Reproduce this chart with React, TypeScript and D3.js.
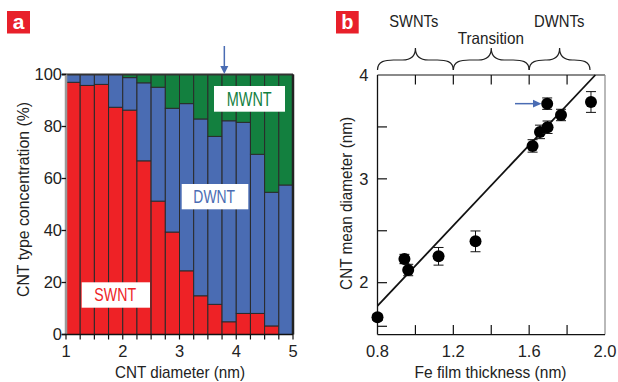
import React from "react";
import * as d3 from "d3";

// ---------- Panel a data ----------
const binStarts = [1, 1.25, 1.5, 1.75, 2, 2.25, 2.5, 2.75, 3, 3.25, 3.5, 3.75, 4, 4.25, 4.5, 4.75];
const binWidth = 0.25;
const swnt = [97, 95.8, 96.2, 87.4, 86.3, 66.8, 51.3, 39.4, 24.5, 14.9, 11.6, 4.9, 8.1, 8.1, 3.3, 0];
const dwnt = [3, 4.2, 3.8, 12.6, 12.5, 30, 43.8, 47.6, 64.3, 68, 64.6, 77.3, 73.5, 61.2, 51.4, 57.5];
const mwnt = [0, 0, 0, 0, 1.2, 3.2, 4.9, 13, 11.2, 17.1, 23.8, 17.8, 18.4, 30.7, 45.3, 42.5];
const aXTicks = [1, 2, 3, 4, 5];
const aXMinor = [1, 1.25, 1.5, 1.75, 2, 2.25, 2.5, 2.75, 3, 3.25, 3.5, 3.75, 4, 4.25, 4.5, 4.75, 5];
const aYTicks = [0, 20, 40, 60, 80, 100];
const arrowADiameter = 3.79;

// ---------- Panel b data ----------
const feThickness = [0.8, 0.942, 0.962, 1.122, 1.317, 1.618, 1.657, 1.697, 1.695, 1.768, 1.926];
const meanDiameter = [1.667, 2.228, 2.122, 2.254, 2.398, 3.317, 3.452, 3.497, 3.724, 3.615, 3.74];
const diameterErr = [0.03, 0.045, 0.055, 0.085, 0.1, 0.06, 0.065, 0.06, 0.055, 0.055, 0.1];
const fitX = [0.8, 1.949];
const fitY = [1.776, 4.0];
const bXTickLabels = [0.8, 1.2, 1.6, 2.0];
const bXTicks = [1.0, 1.2, 1.4, 1.6, 1.8];
const bYTickLabels = [2, 3, 4];
const bYTicks = [1.58, 2, 2.5, 3, 3.5];
const regimes = ["SWNTs", "Transition", "DWNTs"];
const regimeStart = [0.8, 1.2, 1.6];
const regimeEnd = [1.2, 1.6, 1.921];
const arrowBIndex = 8;

const RED = "#ee2226";
const BLUE = "#4a6cb3";
const GREEN = "#13803f";
const FONT = "'Liberation Sans', Arial, sans-serif";

export default function App() {
  const xA = d3.scaleLinear().domain([1, 5]).range([66, 293]);
  const yA = d3.scaleLinear().domain([0, 100]).range([334.5, 74.5]);
  const xB = d3.scaleLinear().domain([0.8, 2.0]).range([377.5, 605]);
  const yB = d3.scaleLinear().domain([1.5, 4]).range([334.6, 75]);

  const fitLine = d3
    .line<number>()
    .x((d) => xB(d))
    .y((_, i) => yB(fitY[i]));

  const brace = (xa: number, xb: number) => {
    const xm = (xa + xb) / 2;
    const y0 = 70, ym = 60, yt = 48;
    return `M${xa},${y0} C${xa},${ym + 1} ${xa + 8},${ym} ${xa + 16},${ym} L${xm - 13},${ym} C${xm - 5},${ym} ${xm},${ym - 3} ${xm},${yt} C${xm},${ym - 3} ${xm + 5},${ym} ${xm + 13},${ym} L${xb - 16},${ym} C${xb - 8},${ym} ${xb},${ym + 1} ${xb},${y0}`;
  };

  const segs: { x: number; y0: number; y1: number; c: string }[] = [];
  binStarts.forEach((b, i) => {
    const s = swnt[i], dw = dwnt[i], m = mwnt[i];
    segs.push({ x: b, y0: 0, y1: s, c: RED });
    segs.push({ x: b, y0: s, y1: s + dw, c: BLUE });
    if (m > 0) segs.push({ x: b, y0: s + dw, y1: 100, c: GREEN });
  });

  const arrowAx = xA(arrowADiameter);
  const arrowBy = yB(meanDiameter[arrowBIndex]);

  return (
    <svg width={618} height={382} style={{ position: "absolute", left: 0, top: 0, background: "#fff" }} fontFamily={FONT}>
      {/* ---------------- Panel a ---------------- */}
      <rect x={7} y={11} width={23} height={22.5} fill="#e8202a" />
      <text x={18.5} y={28.5} fill="#fff" fontSize={21} fontWeight="bold" textAnchor="middle">a</text>

      {segs.map((s, i) => (
        <rect
          key={i}
          x={xA(s.x)}
          width={xA(s.x + binWidth) - xA(s.x)}
          y={yA(s.y1)}
          height={yA(s.y0) - yA(s.y1)}
          fill={s.c}
          stroke="#2a2a2a"
          strokeWidth={1}
        />
      ))}

      {/* frame */}
      <line x1={62} x2={293} y1={yA(100)} y2={yA(100)} stroke="#333" strokeWidth={2} />
      <line x1={xA(5)} x2={xA(5)} y1={yA(100)} y2={yA(0)} stroke="#222" strokeWidth={2.5} />
      <line x1={xA(1)} x2={xA(1)} y1={yA(100)} y2={yA(0)} stroke="#9a9a9a" strokeWidth={2.5} />
      <line x1={62} x2={293} y1={yA(0)} y2={yA(0)} stroke="#111" strokeWidth={1.5} />
      {aYTicks.map((t) => (
        <g key={t}>
          <line x1={61.5} x2={66} y1={yA(t)} y2={yA(t)} stroke="#111" strokeWidth={1.3} />
          <text x={62} y={yA(t)} dy="0.35em" textAnchor="end" fontSize={16.5} fill="#222">{t}</text>
        </g>
      ))}
      {aXMinor.map((t) => (
        <line key={t} x1={xA(t)} x2={xA(t)} y1={yA(0)} y2={yA(0) + 5} stroke="#111" strokeWidth={1.2} />
      ))}
      {aXTicks.map((t) => (
        <text key={t} x={xA(t)} y={356.7} textAnchor="middle" fontSize={16.5} fill="#222">{t}</text>
      ))}
      <text x={180} y={378.3} textAnchor="middle" fontSize={17} fill="#222" textLength={130} lengthAdjust="spacingAndGlyphs">CNT diameter (nm)</text>
      <text transform="translate(28.5,199.5) rotate(-90)" textAnchor="middle" fontSize={17} fill="#222" textLength={195} lengthAdjust="spacingAndGlyphs">CNT type concentration (%)</text>

      {/* in-plot labels */}
      <rect x={214} y={86} width={71} height={25.7} fill="#fff" />
      <text x={249.2} y={106} textAnchor="middle" fontSize={19.5} fill={GREEN} textLength={45} lengthAdjust="spacingAndGlyphs">MWNT</text>
      <rect x={181.7} y={184} width={66.6} height={25.3} fill="#fff" />
      <text x={214.2} y={203.4} textAnchor="middle" fontSize={19} fill={BLUE} textLength={41.7} lengthAdjust="spacingAndGlyphs">DWNT</text>
      <rect x={81.7} y={282.3} width={68.3} height={25.4} fill="#fff" />
      <text x={115.2} y={301.2} textAnchor="middle" fontSize={19} fill={RED} textLength={41.7} lengthAdjust="spacingAndGlyphs">SWNT</text>

      {/* arrow a */}
      <line x1={arrowAx} x2={arrowAx} y1={46} y2={68} stroke={BLUE} strokeWidth={1.5} />
      <polygon points={`${arrowAx - 4},${66} ${arrowAx + 4},${66} ${arrowAx},${74}`} fill={BLUE} />

      {/* ---------------- Panel b ---------------- */}
      <rect x={336} y={11} width={22.7} height={22.5} fill="#e8202a" />
      <text x={347.3} y={28.5} fill="#fff" fontSize={20} fontWeight="bold" textAnchor="middle">b</text>

      {regimes.map((r, i) => (
        <path key={r} d={brace(xB(regimeStart[i]), xB(regimeEnd[i]))} fill="none" stroke="#222" strokeWidth={1.2} />
      ))}
      <text x={413.8} y={26.7} textAnchor="middle" fontSize={16.5} fill="#222" textLength={49} lengthAdjust="spacingAndGlyphs">{regimes[0]}</text>
      <text x={490.8} y={44} textAnchor="middle" fontSize={16.5} fill="#222" textLength={66.3} lengthAdjust="spacingAndGlyphs">{regimes[1]}</text>
      <text x={559.2} y={26.7} textAnchor="middle" fontSize={16.5} fill="#222" textLength={50.3} lengthAdjust="spacingAndGlyphs">{regimes[2]}</text>

      {/* frame */}
      <line x1={xB(0.8)} x2={xB(2.0)} y1={yB(4)} y2={yB(4)} stroke="#8a8a8a" strokeWidth={2} />
      <line x1={xB(2.0)} x2={xB(2.0)} y1={yB(4)} y2={yB(1.5)} stroke="#8a8a8a" strokeWidth={1.2} />
      <line x1={xB(0.8)} x2={xB(0.8)} y1={yB(4)} y2={yB(1.5)} stroke="#111" strokeWidth={1.3} />
      <line x1={xB(0.8)} x2={xB(2.0)} y1={yB(1.5)} y2={yB(1.5)} stroke="#111" strokeWidth={1.3} />
      {bXTicks.map((t) => (
        <g key={t}>
          <line x1={xB(t)} x2={xB(t)} y1={yB(1.5)} y2={yB(1.5) - 9.5} stroke="#111" strokeWidth={1.2} />
          <line x1={xB(t)} x2={xB(t)} y1={yB(4)} y2={yB(4) + 9.5} stroke="#111" strokeWidth={1.2} />
        </g>
      ))}
      {bYTicks.map((t) => (
        <line key={t} x1={xB(0.8)} x2={xB(0.8) + 9.5} y1={yB(t)} y2={yB(t)} stroke="#111" strokeWidth={1.2} />
      ))}
      {bXTickLabels.map((t) => (
        <text key={t} x={xB(t)} y={356.7} textAnchor="middle" fontSize={16.5} fill="#222">{t.toFixed(1)}</text>
      ))}
      {bYTickLabels.map((t) => (
        <text key={t} x={368.5} y={yB(t)} dy="0.35em" textAnchor="end" fontSize={16.5} fill="#222">{t}</text>
      ))}
      <text x={490.5} y={378.3} textAnchor="middle" fontSize={17} fill="#222" textLength={152} lengthAdjust="spacingAndGlyphs">Fe film thickness (nm)</text>
      <text transform="translate(352,203.4) rotate(-90)" textAnchor="middle" fontSize={17} fill="#222" textLength={173} lengthAdjust="spacingAndGlyphs">CNT mean diameter (nm)</text>

      {/* fit line */}
      <path d={fitLine(fitX) || ""} fill="none" stroke="#111" strokeWidth={1.8} />

      {/* error bars + points */}
      {feThickness.map((x, i) => {
        const cx = xB(x);
        const yt = yB(meanDiameter[i] + diameterErr[i]);
        const yb = yB(meanDiameter[i] - diameterErr[i]);
        return (
          <g key={i}>
            <line x1={cx} x2={cx} y1={yt} y2={yb} stroke="#111" strokeWidth={1} />
            <line x1={cx - 5} x2={cx + 5} y1={yt} y2={yt} stroke="#111" strokeWidth={1} />
            <line x1={cx - 5} x2={cx + 5} y1={yb} y2={yb} stroke="#111" strokeWidth={1} />
            <circle cx={cx} cy={yB(meanDiameter[i])} r={6} fill="#000" />
          </g>
        );
      })}

      {/* arrow b */}
      <line x1={515} x2={535} y1={arrowBy} y2={arrowBy} stroke={BLUE} strokeWidth={1.5} />
      <polygon points={`${533},${arrowBy - 3.8} ${533},${arrowBy + 3.8} ${541.5},${arrowBy}`} fill={BLUE} />
    </svg>
  );
}
